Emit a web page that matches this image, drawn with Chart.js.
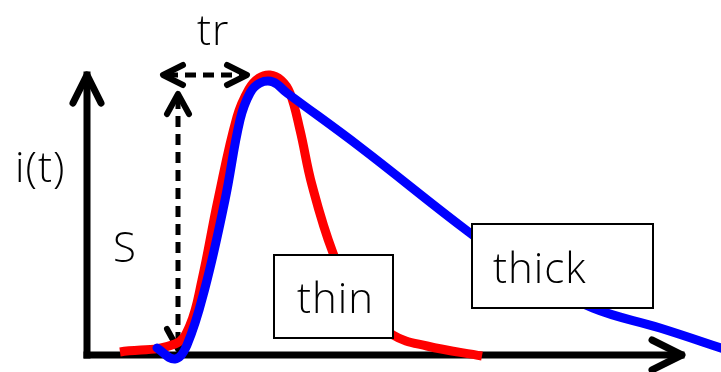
<!DOCTYPE html>
<html>
<head>
<meta charset="utf-8">
<script src="https://cdn.jsdelivr.net/npm/chart.js@4"></script>
<style>
    html, body { margin: 0; padding: 0; background: #fff; }
    #wrap { width: 721px; height: 372px; position: relative; }
</style>
</head>
<body>
<div id="wrap"><canvas id="pulseChart"></canvas></div>
<script>
// Curve samples, in axis units (origin = corner of the two axes)
const thinT = [33, 88, 103, 115, 131, 150, 162, 172, 183, 194, 203, 213, 225, 246, 270, 306, 340, 395];
const thinI = [3, 11, 30, 75, 155, 238, 266, 277, 280, 275, 262, 225, 170, 102, 52, 20, 9, -1];
const thickT = [70, 88, 100, 118, 138, 153, 163, 173, 186, 200, 273, 383, 443, 506, 573, 643];
const thickI = [7, -4, 10, 67, 155, 235, 262, 272, 273, 262, 208, 122, 80, 47, 27, 4];

// Label texts
const labelTr = 'tr';
const labelS = 'S';
const labelY = 'i(t)';
const labelThin = 'thin';
const labelThick = 'thick';

const FONT = '300 42px "Open Sans", "DejaVu Sans", sans-serif';

function toPoints(xs, ys) {
    return xs.map((x, i) => ({ x: x, y: ys[i] }));
}

// small helpers working in data units through the chart scales
function px(chart, x) { return chart.scales.x.getPixelForValue(x); }
function py(chart, y) { return chart.scales.y.getPixelForValue(y); }

function chevron(ctx, chart, tip, a, b) {
    ctx.beginPath();
    ctx.moveTo(px(chart, a[0]), py(chart, a[1]));
    ctx.lineTo(px(chart, tip[0]), py(chart, tip[1]));
    ctx.lineTo(px(chart, b[0]), py(chart, b[1]));
    ctx.stroke();
}

function line(ctx, chart, a, b) {
    ctx.beginPath();
    ctx.moveTo(px(chart, a[0]), py(chart, a[1]));
    ctx.lineTo(px(chart, b[0]), py(chart, b[1]));
    ctx.stroke();
}

// Axes and the dashed tr / S arrows go under the curves
const underlay = {
    id: 'underlay',
    beforeDatasetsDraw(chart) {
        const ctx = chart.ctx;
        ctx.save();
        ctx.strokeStyle = '#000';
        ctx.lineJoin = 'round';

        // axes
        ctx.lineWidth = 7;
        ctx.lineCap = 'square';
        line(ctx, chart, [0, 280], [0, 0]);
        line(ctx, chart, [0, 0], [594, 0]);
        ctx.lineCap = 'round';
        chevron(ctx, chart, [0, 280], [-14, 252], [14, 252]);
        chevron(ctx, chart, [595, 0], [565, 15], [565, -15]);

        // dashed double arrows
        ctx.lineWidth = 5;
        ctx.setLineDash([11, 7]);
        ctx.lineCap = 'butt';
        line(ctx, chart, [80, 280], [156, 280]);
        line(ctx, chart, [91, 257], [91, 10]);
        ctx.setLineDash([]);
        ctx.lineWidth = 6;
        ctx.lineCap = 'round';
        chevron(ctx, chart, [76, 280], [96, 290], [96, 270]);
        chevron(ctx, chart, [160, 280], [140, 290], [140, 270]);
        chevron(ctx, chart, [91, 261], [80, 241], [102, 241]);
        chevron(ctx, chart, [91, 6], [80, 26], [102, 26]);
        ctx.restore();
    }
};

// Label boxes and texts go on top
const overlay = {
    id: 'overlay',
    afterDatasetsDraw(chart) {
        const ctx = chart.ctx;
        ctx.save();
        const box = (x0, y0, x1, y1) => {
            const l = px(chart, x0), t = py(chart, y0);
            const w = px(chart, x1) - l, h = py(chart, y1) - t;
            ctx.fillStyle = '#fff';
            ctx.fillRect(l, t, w, h);
            ctx.strokeStyle = '#000';
            ctx.lineWidth = 2;
            ctx.strokeRect(l, t, w, h);
        };
        box(187, 100, 306, 17);
        box(385, 131, 566, 47);

        ctx.fillStyle = '#000';
        ctx.font = FONT;
        ctx.letterSpacing = '1px';
        ctx.textAlign = 'left';
        ctx.textBaseline = 'alphabetic';
        const text = (s, x, y) => ctx.fillText(s, px(chart, x), py(chart, y));
        text(labelTr, 110, 310);
        text(labelS, 26, 93);
        text(labelY, -72, 173);
        text(labelThin, 210, 42);
        text(labelThick, 406, 72);
        ctx.restore();
    }
};

new Chart(document.getElementById('pulseChart'), {
    type: 'line',
    data: {
        datasets: [
            {
                label: 'thick',
                data: toPoints(thickT, thickI),
                borderColor: '#0000ff',
                borderWidth: 9,
                pointRadius: 0,
                tension: 0.4,
                borderCapStyle: 'round',
                borderJoinStyle: 'round',
                fill: false
            },
            {
                label: 'thin',
                data: toPoints(thinT, thinI),
                borderColor: '#ff0000',
                borderWidth: 9,
                pointRadius: 0,
                tension: 0.4,
                borderCapStyle: 'butt',
                borderJoinStyle: 'round',
                fill: false
            }
        ]
    },
    options: {
        responsive: true,
        maintainAspectRatio: false,
        animation: false,
        layout: { padding: 0 },
        scales: {
            x: { type: 'linear', min: -87, max: 634, display: false },
            y: { type: 'linear', min: -17, max: 355, display: false }
        },
        plugins: {
            legend: { display: false },
            tooltip: { enabled: false }
        }
    },
    plugins: [underlay, overlay]
});
</script>
</body>
</html>
